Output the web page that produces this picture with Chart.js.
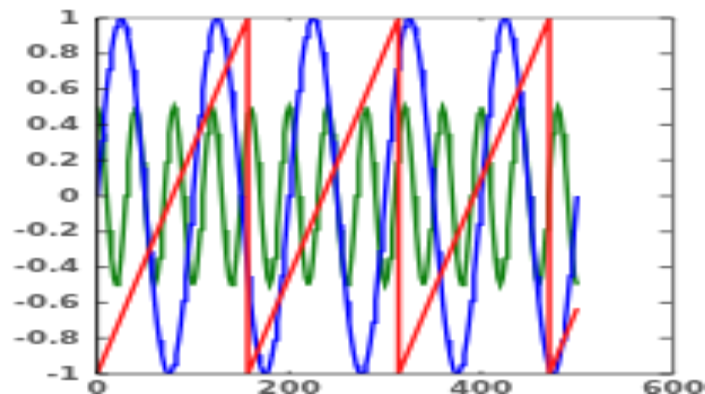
<!DOCTYPE html>
<html><head><meta charset="utf-8">
<script src="https://cdn.jsdelivr.net/npm/chart.js@4/dist/chart.umd.min.js"></script>
<style>html,body{margin:0;padding:0;background:#fff;overflow:hidden}</style>
</head><body>
<canvas id="c" width="208" height="197" style="display:block;width:705px;height:394px"></canvas>
<script>
// sample positions (x) shared by the blue and green series
const xs = [
0,2.5,5,7.5,10,12.5,15,17.5,20,22.5,25,27.5,30,32.5,35,37.5,40,42.5,45,47.5,
50,52.5,55,57.5,60,62.5,65,67.5,70,72.5,75,77.5,80,82.5,85,87.5,90,92.5,95,97.5,
100,102.5,105,107.5,110,112.5,115,117.5,120,122.5,125,127.5,130,132.5,135,137.5,140,142.5,145,147.5,
150,152.5,155,157.5,160,162.5,165,167.5,170,172.5,175,177.5,180,182.5,185,187.5,190,192.5,195,197.5,
200,202.5,205,207.5,210,212.5,215,217.5,220,222.5,225,227.5,230,232.5,235,237.5,240,242.5,245,247.5,
250,252.5,255,257.5,260,262.5,265,267.5,270,272.5,275,277.5,280,282.5,285,287.5,290,292.5,295,297.5,
300,302.5,305,307.5,310,312.5,315,317.5,320,322.5,325,327.5,330,332.5,335,337.5,340,342.5,345,347.5,
350,352.5,355,357.5,360,362.5,365,367.5,370,372.5,375,377.5,380,382.5,385,387.5,390,392.5,395,397.5,
400,402.5,405,407.5,410,412.5,415,417.5,420,422.5,425,427.5,430,432.5,435,437.5,440,442.5,445,447.5,
450,452.5,455,457.5,460,462.5,465,467.5,470,472.5,475,477.5,480,482.5,485,487.5,490,492.5,495,497.5,
500];

const blueValues = [
0,.16,.31,.45,.59,.71,.81,.89,.95,.99,1,.99,.95,.89,.81,.71,.59,.45,.31,.16,
0,-.16,-.31,-.45,-.59,-.71,-.81,-.89,-.95,-.99,-1,-.99,-.95,-.89,-.81,-.71,-.59,-.45,-.31,-.16,
0,.16,.31,.45,.59,.71,.81,.89,.95,.99,1,.99,.95,.89,.81,.71,.59,.45,.31,.16,
0,-.16,-.31,-.45,-.59,-.71,-.81,-.89,-.95,-.99,-1,-.99,-.95,-.89,-.81,-.71,-.59,-.45,-.31,-.16,
0,.16,.31,.45,.59,.71,.81,.89,.95,.99,1,.99,.95,.89,.81,.71,.59,.45,.31,.16,
0,-.16,-.31,-.45,-.59,-.71,-.81,-.89,-.95,-.99,-1,-.99,-.95,-.89,-.81,-.71,-.59,-.45,-.31,-.16,
0,.16,.31,.45,.59,.71,.81,.89,.95,.99,1,.99,.95,.89,.81,.71,.59,.45,.31,.16,
0,-.16,-.31,-.45,-.59,-.71,-.81,-.89,-.95,-.99,-1,-.99,-.95,-.89,-.81,-.71,-.59,-.45,-.31,-.16,
0,.16,.31,.45,.59,.71,.81,.89,.95,.99,1,.99,.95,.89,.81,.71,.59,.45,.31,.16,
0,-.16,-.31,-.45,-.59,-.71,-.81,-.89,-.95,-.99,-1,-.99,-.95,-.89,-.81,-.71,-.59,-.45,-.31,-.16,
0];

const greenValues = [
.5,.46,.35,.19,0,-.19,-.35,-.46,-.5,-.46,-.35,-.19,0,.19,.35,.46,
.5,.46,.35,.19,0,-.19,-.35,-.46,-.5,-.46,-.35,-.19,0,.19,.35,.46,
.5,.46,.35,.19,0,-.19,-.35,-.46,-.5,-.46,-.35,-.19,0,.19,.35,.46,
.5,.46,.35,.19,0,-.19,-.35,-.46,-.5,-.46,-.35,-.19,0,.19,.35,.46,
.5,.46,.35,.19,0,-.19,-.35,-.46,-.5,-.46,-.35,-.19,0,.19,.35,.46,
.5,.46,.35,.19,0,-.19,-.35,-.46,-.5,-.46,-.35,-.19,0,.19,.35,.46,
.5,.46,.35,.19,0,-.19,-.35,-.46,-.5,-.46,-.35,-.19,0,.19,.35,.46,
.5,.46,.35,.19,0,-.19,-.35,-.46,-.5,-.46,-.35,-.19,0,.19,.35,.46,
.5,.46,.35,.19,0,-.19,-.35,-.46,-.5,-.46,-.35,-.19,0,.19,.35,.46,
.5,.46,.35,.19,0,-.19,-.35,-.46,-.5,-.46,-.35,-.19,0,.19,.35,.46,
.5,.46,.35,.19,0,-.19,-.35,-.46,-.5,-.46,-.35,-.19,0,.19,.35,.46,
.5,.46,.35,.19,0,-.19,-.35,-.46,-.5,-.46,-.35,-.19,0,.19,.35,.46,
.5,.46,.35,.19,0,-.19,-.35,-.46,-.5];

// sawtooth series (corner points)
const redX = [0,157,157,314,314,471,471,500];
const redY = [-1,1,-1,1,-1,1,-1,-0.63];

// axis ticks
const xTicks = [0,200,400,600];
const xTickLabels = ['0','200','400','600'];
const yTicks = [-1,-0.8,-0.6,-0.4,-0.2,0,0.2,0.4,0.6,0.8,1];
const yTickLabels = ['-1','-0.8','-0.6','-0.4','-0.2','0','0.2','0.4','0.6','0.8','1'];

const toPoints = (xa, ya) => xa.map((x, i) => ({x, y: ya[i]}));

const framePlugin = {
  id: 'frame',
  afterDraw(chart) {
    const {ctx, chartArea: {left, right, top, bottom}, scales: {x, y}} = chart;
    ctx.save();
    ctx.lineCap = 'butt';
    ctx.strokeStyle = '#111';
    ctx.lineWidth = 0.7;
    yTicks.forEach(v => {
      const py = y.getPixelForValue(v);
      ctx.beginPath(); ctx.moveTo(left, py); ctx.lineTo(left + 3.2, py); ctx.stroke();
      ctx.beginPath(); ctx.moveTo(right, py); ctx.lineTo(right - 4, py); ctx.stroke();
    });
    xTicks.forEach(v => {
      const px = x.getPixelForValue(v);
      ctx.beginPath(); ctx.moveTo(px, bottom); ctx.lineTo(px, bottom - 1.5); ctx.stroke();
      ctx.beginPath(); ctx.moveTo(px, top); ctx.lineTo(px, top + 1.5); ctx.stroke();
    });
    ctx.strokeStyle = '#555'; ctx.lineWidth = 0.6;
    ctx.beginPath(); ctx.moveTo(left, top); ctx.lineTo(right, top); ctx.stroke();
    ctx.strokeStyle = '#333'; ctx.lineWidth = 0.8;
    ctx.beginPath(); ctx.moveTo(left, bottom); ctx.lineTo(right, bottom); ctx.stroke();
    ctx.strokeStyle = '#666'; ctx.lineWidth = 1;
    ctx.beginPath(); ctx.moveTo(right, top); ctx.lineTo(right, bottom); ctx.stroke();
    ctx.strokeStyle = '#000'; ctx.lineWidth = 0.9;
    ctx.beginPath(); ctx.moveTo(left, top); ctx.lineTo(left, bottom); ctx.stroke();

    // tick labels
    ctx.fillStyle = '#5a5a5a';
    ctx.font = "bold 9px 'DejaVu Sans', 'Liberation Sans', sans-serif";
    ctx.textAlign = 'right';
    ctx.textBaseline = 'middle';
    yTicks.forEach((v, i) => {
      ctx.fillText(yTickLabels[i], left - 5, y.getPixelForValue(v) + 0.3);
    });
    ctx.textAlign = 'center';
    ctx.textBaseline = 'top';
    xTicks.forEach((v, i) => {
      ctx.fillText(xTickLabels[i], x.getPixelForValue(v), bottom + 3);
    });
    ctx.restore();
  }
};

new Chart(document.getElementById('c'), {
  type: 'line',
  data: {
    datasets: [
      {data: toPoints(redX, redY), borderColor: '#ff1a1a', borderWidth: 1.5},
      {data: toPoints(xs, blueValues), borderColor: '#0000ff', borderWidth: 1.4},
      {data: toPoints(xs, greenValues), borderColor: '#108010', borderWidth: 1.4}
    ]
  },
  options: {
    responsive: false,
    devicePixelRatio: 1,
    animation: false,
    events: [],
    elements: {point: {radius: 0}, line: {tension: 0, borderJoinStyle: 'miter'}},
    layout: {padding: {top: 9, right: 9.4, left: 28.6, bottom: 10}},
    plugins: {legend: {display: false}, tooltip: {enabled: false}},
    scales: {
      x: {type: 'linear', min: 0, max: 600, display: false},
      y: {type: 'linear', min: -1, max: 1, display: false}
    }
  },
  plugins: [framePlugin]
});
</script>
</body></html>
